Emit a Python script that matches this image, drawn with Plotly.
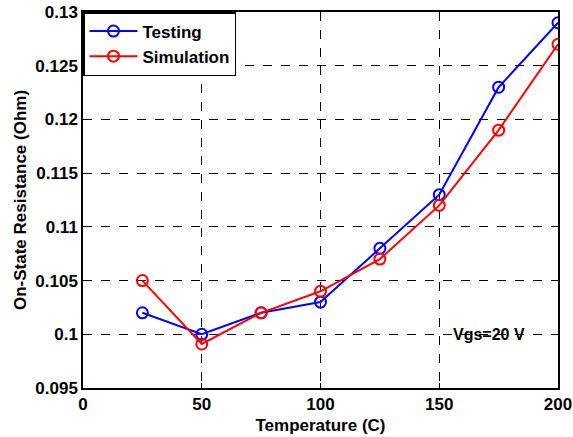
import plotly.graph_objects as go

temperature = [25, 50, 75, 100, 125, 150, 175, 200]
testing = [0.102, 0.100, 0.102, 0.103, 0.108, 0.113, 0.123, 0.129]
simulation = [0.105, 0.0991, 0.102, 0.104, 0.107, 0.112, 0.119, 0.127]

x_ticks = [0, 50, 100, 150, 200]
y_ticks = [0.095, 0.1, 0.105, 0.11, 0.115, 0.12, 0.125, 0.13]
y_tick_text = ["0.095", "0.1", "0.105", "0.11", "0.115", "0.12", "0.125", "0.13"]

font_family = "Liberation Sans, Arial, sans-serif"

fig = go.Figure()
fig.add_trace(go.Scatter(
    x=temperature, y=testing, name="<b>Testing</b>", mode="lines+markers",
    line=dict(color="#0000ff", width=2),
    marker=dict(symbol="circle-open", size=11, color="#0000ff", line=dict(width=2)),
))
fig.add_trace(go.Scatter(
    x=temperature, y=simulation, name="<b>Simulation</b>", mode="lines+markers",
    line=dict(color="#ff0000", width=2),
    marker=dict(symbol="circle-open", size=11, color="#ff0000", line=dict(width=2)),
))

axis_common = dict(
    showline=True, linecolor="black", linewidth=1.5, mirror=True,
    showgrid=True, gridcolor="black", griddash="dash", gridwidth=1,
    zeroline=False, ticks="inside", ticklen=5, tickcolor="black",
    tickfont=dict(family=font_family, size=17, color="black"),
    automargin=False,
)

fig.update_xaxes(
    range=[0, 200], tickvals=x_ticks, ticktext=[f"<b>{v}</b>" for v in x_ticks],
    title=dict(text="<b>Temperature (C)</b>", font=dict(family=font_family, size=17, color="black"), standoff=6),
    **axis_common,
)
fig.update_yaxes(
    range=[0.095, 0.13], tickvals=y_ticks, ticktext=[f"<b>{t}</b>" for t in y_tick_text],
    title=dict(text="<b>On-State Resistance (Ohm)</b>", font=dict(family=font_family, size=17, color="black"), standoff=4),
    **axis_common,
)

fig.add_annotation(
    x=171, y=0.1, text="<b>Vgs=20 V</b>", showarrow=False,
    xanchor="center", yanchor="middle",
    font=dict(family=font_family, size=16, color="black"),
)

fig.update_layout(
    width=573, height=437,
    margin=dict(l=83, r=15, t=12, b=49),
    paper_bgcolor="white", plot_bgcolor="white",
    font=dict(family=font_family, color="black"),
    legend=dict(
        x=0, y=1, xanchor="left", yanchor="top",
        bordercolor="black", borderwidth=1.5, bgcolor="white",
        font=dict(family=font_family, size=17, color="black"),
        tracegroupgap=0, itemwidth=48,
    ),
)

fig.write_html("out.html")
